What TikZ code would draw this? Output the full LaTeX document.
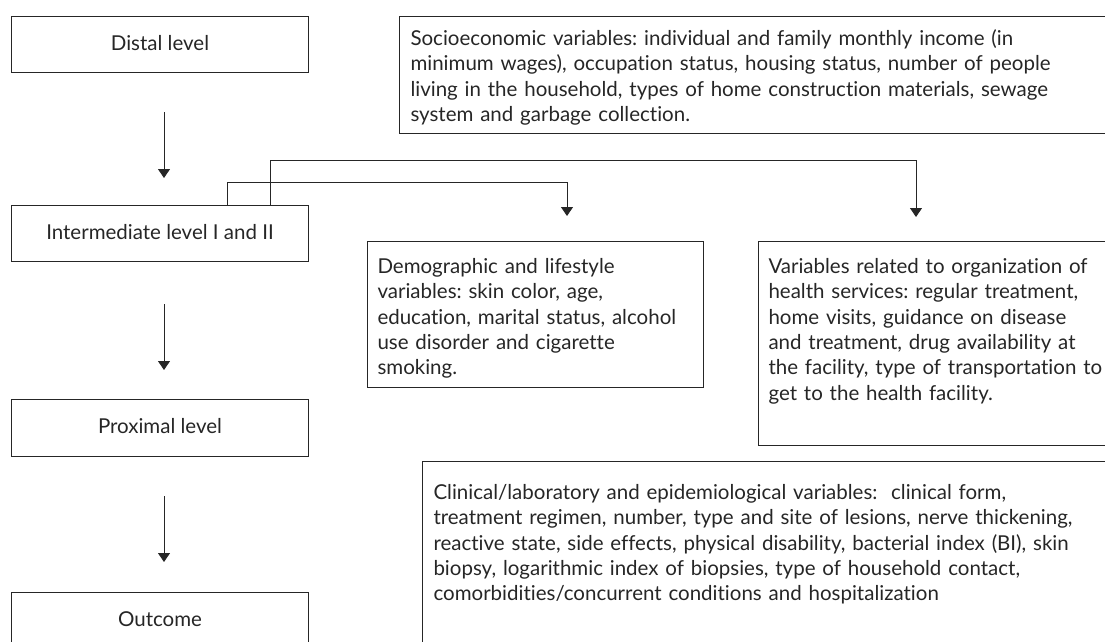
\documentclass[tikz,border=0pt]{standalone}
\usepackage{fontspec}
\setmainfont{Lato}[Ligatures=CommonOff]
\usetikzlibrary{arrows.meta,positioning}
\frenchspacing

\begin{document}
\begin{tikzpicture}[x=1pt,y=-1pt,line width=1pt,color=black!85,
	every node/.style={draw,font=\fontsize{20.5}{25.3}\selectfont},
	lvlbox/.style={anchor=north west,minimum width=297pt,minimum height=56pt,text height=15pt,text depth=4pt},
	varbox/.style={anchor=north west,align=left,inner xsep=10pt,inner ysep=0pt},
	arr/.style={-{Triangle[width=12pt,length=9pt]}}]
\path[use as bounding box,clip] (0,0) rectangle (1105,641);

% levels of the model
\node[lvlbox] (distal) at (11,16) {Distal level};
\node[lvlbox] (inter) at (11,205) {Intermediate level I and II};
\node[lvlbox,minimum height=57pt] (prox) at (11,399) {Proximal level};
\node[lvlbox] (outcome) at (11,592) {Outcome};

% groups of variables
\node[varbox,inner xsep=11pt,text width=700pt,text height=29pt,text depth=88pt] (socio) at (399,16)
	{Socioeconomic variables: individual and family monthly income (in\\
	minimum wages), occupation status, housing status, number of people\\
	living in the household, types of home construction materials, sewage\\
	system and garbage collection.};
\node[varbox,text width=316pt,text height=32pt,text depth=114pt] (demo) at (367,241)
	{Demographic and lifestyle\\
	variables: skin color, age,\\
	education, marital status, alcohol\\
	use disorder and cigarette\\
	smoking.};
\node[varbox,text width=420pt,text height=32pt,text depth=172pt] (health) at (758,241)
	{Variables related to organization of\\
	health services: regular treatment,\\
	home visits, guidance on disease\\
	and treatment, drug availability at\\
	the facility, type of transportation to\\
	get to the health facility.};
\node[varbox,inner xsep=11pt,text width=720pt,text height=38pt,text depth=200pt] (clin) at (422,461)
	{Clinical/laboratory and epidemiological variables:\ \ clinical form,\\
	treatment regimen, number, type and site of lesions, nerve thickening,\\
	reactive state, side effects, physical disability, bacterial index (BI), skin\\
	biopsy, logarithmic index of biopsies, type of household contact,\\
	comorbidities/concurrent conditions and hospitalization};

\coordinate (demoin) at (567,216);
\coordinate (healthin) at (916,217);

\draw[arr] ([shift={(4,39)}]distal.south) -- ([shift={(4,-27)}]inter.north);
\draw[arr] ([shift={(4,42)}]inter.south) -- ([shift={(4,-29)}]prox.north);
\draw[arr] ([shift={(4,39)}]prox.south) -- ([shift={(4,-30)}]outcome.north);

\draw[arr] ([xshift=216pt]inter.north west) -- ++(0,-23) -| (demoin);
\draw[arr] ([xshift=259pt]inter.north west) -- ++(0,-45) -| (healthin);
\end{tikzpicture}
\end{document}
